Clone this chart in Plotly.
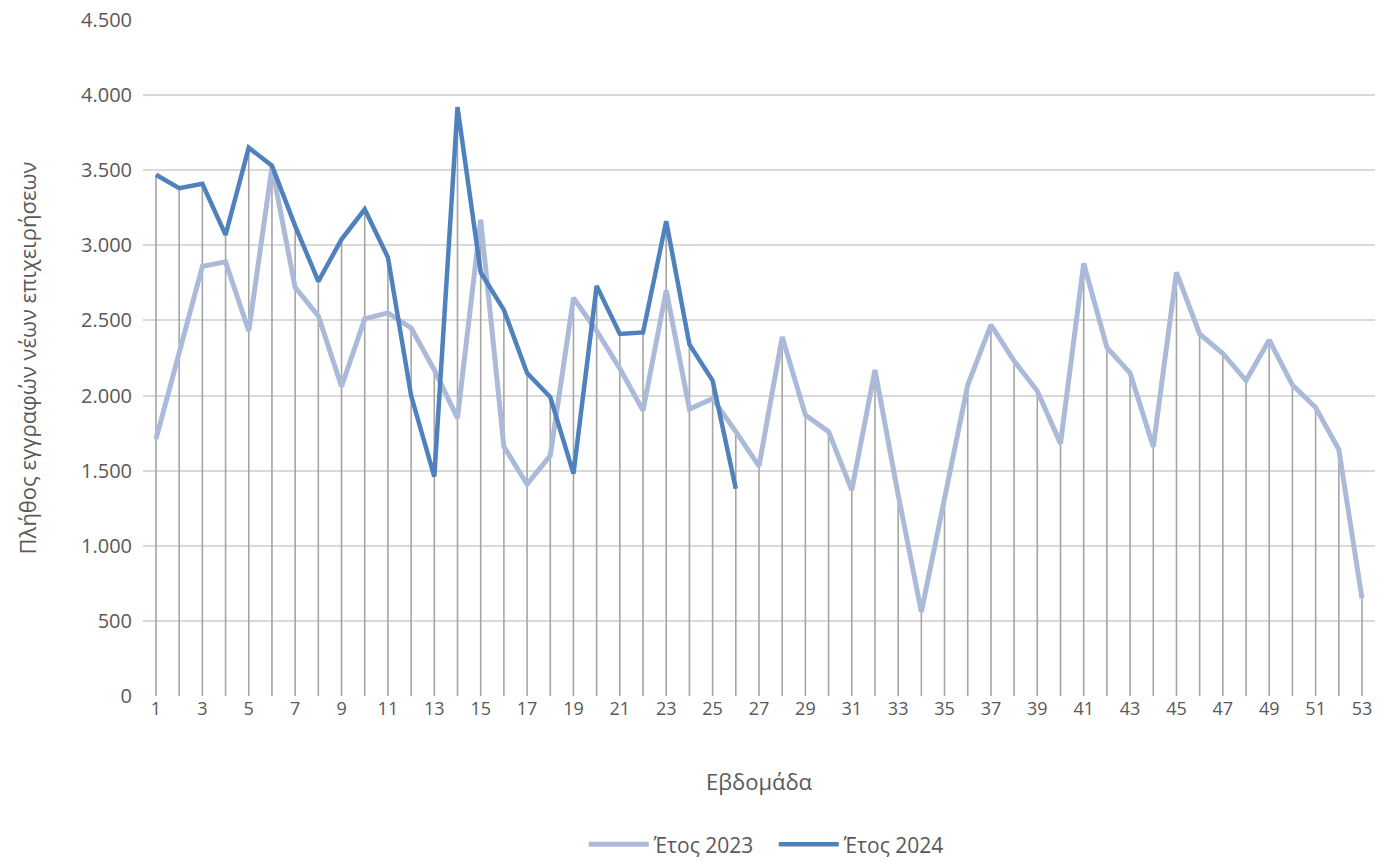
import plotly.graph_objects as go

weeks = list(range(1, 54))
weeks_2024 = list(range(1, 27))

values_2023 = [1710, 2290, 2860, 2890, 2430, 3520, 2720, 2530, 2060, 2510,
               2550, 2450, 2170, 1850, 3170, 1660, 1410, 1600, 2650, 2430,
               2180, 1900, 2700, 1910, 1980, 1760, 1530, 2390, 1870, 1760,
               1370, 2170, 1340, 560, 1320, 2070, 2470, 2230, 2030, 1680,
               2880, 2320, 2150, 1660, 2820, 2410, 2280, 2100, 2370, 2070,
               1920, 1640, 650]

values_2024 = [3470, 3380, 3410, 3070, 3650, 3530, 3130, 2760, 3040, 3240,
               2920, 2000, 1460, 3920, 2820, 2570, 2150, 1990, 1480, 2730,
               2410, 2420, 3160, 2340, 2100, 1380]

name_2023 = "Έτος 2023"
name_2024 = "Έτος 2024"
x_title = "Εβδομάδα"
y_title = "Πλήθος εγγραφών νέων επιχειρήσεων"
x_tickvals = list(range(1, 54, 2))
y_tickvals = list(range(0, 4501, 500))

# drop lines: from 0 to the highest value of the two series at each week
drop_x, drop_y = [], []
for i, w in enumerate(weeks):
    top = values_2023[i]
    if i < len(values_2024):
        top = max(top, values_2024[i])
    drop_x += [w, w, None]
    drop_y += [0, top, None]

font_family = "Open Sans, Liberation Sans, sans-serif"
text_color = "#595959"

fig = go.Figure()
fig.add_trace(go.Scatter(x=drop_x, y=drop_y, mode="lines",
                         line=dict(color="#A5A5A5", width=1.6),
                         showlegend=False, hoverinfo="skip"))
fig.add_trace(go.Scatter(x=weeks, y=values_2023, mode="lines", name=name_2023,
                         line=dict(color="#ABBAD8", width=5)))
fig.add_trace(go.Scatter(x=weeks_2024, y=values_2024, mode="lines", name=name_2024,
                         line=dict(color="#4F81BD", width=4.5)))

fig.update_layout(
    width=1390, height=861,
    margin=dict(l=143, r=15, t=20, b=165, autoexpand=False),
    paper_bgcolor="white", plot_bgcolor="white",
    separators=",.",
    font=dict(family=font_family, color=text_color, size=18),
    legend=dict(orientation="h", x=0.512, xanchor="center", y=-0.22, yanchor="middle",
                font=dict(size=21, color=text_color), itemwidth=60,
                entrywidth=115, traceorder="normal"),
    xaxis=dict(range=[0.44, 53.56], tickvals=x_tickvals, showgrid=False,
               zeroline=False, showline=False, ticks="",
               tickfont=dict(size=18, color=text_color),
               title=dict(text=x_title, font=dict(size=22, color=text_color), standoff=55)),
    yaxis=dict(range=[0, 4500], tickvals=y_tickvals, tickformat=",d",
               showgrid=True, gridcolor="#D9D9D9", gridwidth=1.5,
               zeroline=False, showline=False, ticks="",
               tickfont=dict(size=20, color=text_color), ticklabelstandoff=10,
               title=dict(text=y_title, font=dict(size=22, color=text_color), standoff=38)),
)

fig.write_html("out.html", config={"displayModeBar": False},
               post_script="document.body.style.margin='0';document.body.style.overflow='hidden';")
